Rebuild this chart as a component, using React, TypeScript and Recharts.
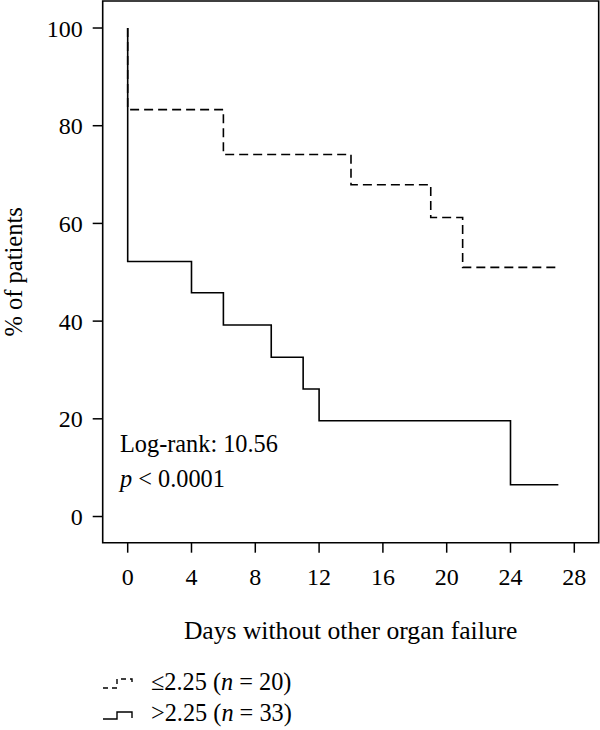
import React from "react";
import {
  ComposedChart,
  Line,
  XAxis,
  YAxis,
  ReferenceArea,
  Label,
  Customized,
} from "recharts";

// Kaplan-Meier steps (day, % of patients)
const lowDays = [0, 0, 6, 14, 19, 21, 27];
const lowPct = [100, 83.3, 74.1, 67.9, 61.2, 51.0, 51.0];
const highDays = [0, 0, 4, 6, 9, 11, 12, 24, 27];
const highPct = [100, 52.2, 45.8, 39.2, 32.6, 26.1, 19.6, 6.5, 6.5];

const xTicks = [0, 4, 8, 12, 16, 20, 24, 28];
const yTicks = [0, 20, 40, 60, 80, 100];

const lowData = lowDays.map((d, i) => ({ day: d, pct: lowPct[i] }));
const highData = highDays.map((d, i) => ({ day: d, pct: highPct[i] }));

const X_DOMAIN: [number, number] = [-1.567, 29.53];
const Y_DOMAIN: [number, number] = [-5.36, 105.53];

const FONT = "'Liberation Serif', 'Times New Roman', serif";
const W = 600;
const H = 730;
const Y_AXIS_W = 102.7;
const X_AXIS_H = 40;
const MARGIN = { top: 1, right: 1.3, left: 0, bottom: 147.3 };

const Annotations = () => (
  <g fontFamily={FONT} fontSize={24.3} fill="#000">
    <text x={120} y={452}>Log-rank: 10.56</text>
    <text x={120} y={487}>
      <tspan fontStyle="italic">p</tspan> {"< 0.0001"}
    </text>
  </g>
);

function LegendBlock() {
  return (
    <svg width={W} height={90} style={{ position: "absolute", left: 0, top: 650 }}>
      <g fontFamily={FONT} fontSize={24.3} fill="#000">
        <path
          d="M103,38 H117 V29 H132 V33"
          fill="none"
          stroke="#000"
          strokeWidth={1.4}
          strokeDasharray="5 4"
        />
        <text x={151} y={40}>
          {"≤2.25 ("}
          <tspan fontStyle="italic">n</tspan>
          {" = 20)"}
        </text>
        <path d="M103,69 H117 V62 H132 V68" fill="none" stroke="#000" strokeWidth={1.4} />
        <text x={151} y={71}>
          {">2.25 ("}
          <tspan fontStyle="italic">n</tspan>
          {" = 33)"}
        </text>
      </g>
    </svg>
  );
}

export default function App() {
  return (
    <div style={{ position: "absolute", left: 0, top: 0, width: W, height: H, background: "#fff" }}>
      <ComposedChart width={W} height={H} margin={MARGIN}>
        <XAxis
          type="number"
          dataKey="day"
          domain={X_DOMAIN}
          ticks={xTicks}
          allowDataOverflow
          height={X_AXIS_H}
          axisLine={false}
          tickSize={10}
          tickMargin={15}
          tickLine={{ stroke: "#000", strokeWidth: 1.5 }}
          tick={{ fill: "#000", fontSize: 24, fontFamily: FONT }}
        >
          <Label
            content={(props: any) => {
              const vb = props.viewBox || {};
              return (
                <text
                  x={vb.x + vb.width / 2}
                  y={639}
                  textAnchor="middle"
                  fontFamily={FONT}
                  fontSize={25.6}
                  fill="#000"
                >
                  Days without other organ failure
                </text>
              );
            }}
          />
        </XAxis>
        <YAxis
          type="number"
          dataKey="pct"
          domain={Y_DOMAIN}
          ticks={yTicks}
          allowDataOverflow
          width={Y_AXIS_W}
          axisLine={false}
          tickSize={10}
          tickMargin={10}
          tickLine={{ stroke: "#000", strokeWidth: 1.5 }}
          tick={{ fill: "#000", fontSize: 24, fontFamily: FONT }}
        >
          <Label
            content={(props: any) => {
              const vb = props.viewBox || {};
              const cy = vb.y + vb.height / 2;
              return (
                <text
                  x={22}
                  y={cy}
                  textAnchor="middle"
                  transform={`rotate(-90 22 ${cy})`}
                  fontFamily={FONT}
                  fontSize={24.5}
                  fill="#000"
                >
                  % of patients
                </text>
              );
            }}
          />
        </YAxis>
        <ReferenceArea
          x1={X_DOMAIN[0]}
          x2={X_DOMAIN[1]}
          y1={Y_DOMAIN[0]}
          y2={Y_DOMAIN[1]}
          fill="none"
          fillOpacity={0}
          stroke="#000"
          strokeWidth={1.6}
          ifOverflow="visible"
        />
        <Line
          data={highData}
          dataKey="pct"
          type="stepAfter"
          stroke="#000"
          strokeWidth={1.6}
          dot={false}
          activeDot={false}
          isAnimationActive={false}
        />
        <Line
          data={lowData}
          dataKey="pct"
          type="stepAfter"
          stroke="#000"
          strokeWidth={1.6}
          strokeDasharray="9 5"
          dot={false}
          activeDot={false}
          isAnimationActive={false}
        />
        <Customized component={<Annotations />} />
      </ComposedChart>
      <LegendBlock />
    </div>
  );
}
